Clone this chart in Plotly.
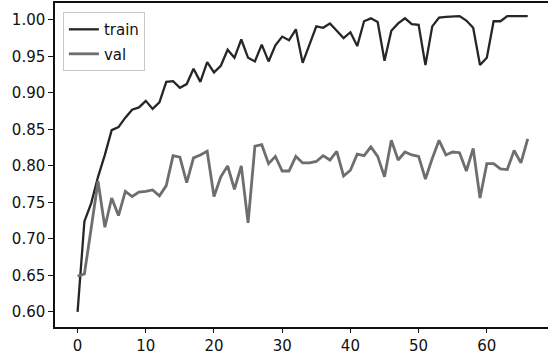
import plotly.graph_objects as go

epochs = list(range(67))

train = [0.600, 0.724, 0.749, 0.785, 0.815, 0.849, 0.853, 0.866, 0.877, 0.880,
         0.889, 0.878, 0.887, 0.915, 0.916, 0.907, 0.912, 0.933, 0.915, 0.942,
         0.928, 0.937, 0.959, 0.948, 0.973, 0.948, 0.943, 0.966, 0.943, 0.965,
         0.977, 0.972, 0.987, 0.941, 0.966, 0.991, 0.989, 0.995, 0.985, 0.975,
         0.983, 0.964, 0.998, 1.002, 0.997, 0.944, 0.985, 0.995, 1.002, 0.994,
         0.993, 0.938, 0.991, 1.003, 1.004, 1.005, 1.005, 0.999, 0.989, 0.938,
         0.948, 0.998, 0.998, 1.005, 1.005, 1.005, 1.005]

val = [0.649, 0.652, 0.715, 0.779, 0.716, 0.756, 0.732, 0.765, 0.758, 0.764,
       0.765, 0.767, 0.759, 0.773, 0.814, 0.812, 0.777, 0.811, 0.815, 0.820,
       0.758, 0.785, 0.800, 0.768, 0.800, 0.722, 0.827, 0.829, 0.803, 0.813,
       0.793, 0.793, 0.813, 0.804, 0.804, 0.806, 0.814, 0.808, 0.820, 0.786,
       0.794, 0.816, 0.814, 0.826, 0.813, 0.785, 0.835, 0.808, 0.819, 0.815,
       0.813, 0.782, 0.810, 0.835, 0.815, 0.819, 0.818, 0.793, 0.824, 0.756,
       0.803, 0.803, 0.796, 0.795, 0.821, 0.804, 0.837]

x_ticks = [0, 10, 20, 30, 40, 50, 60]
y_ticks = [0.60, 0.65, 0.70, 0.75, 0.80, 0.85, 0.90, 0.95, 1.00]

FONT = "DejaVu Sans"

fig = go.Figure()
fig.add_trace(go.Scatter(x=epochs, y=train, mode="lines", name="train",
                         line=dict(color="#262626", width=2.3),
                         legendgroup="a"))
fig.add_trace(go.Scatter(x=epochs, y=val, mode="lines", name="val",
                         line=dict(color="#6e6e6e", width=2.8),
                         legendgroup="b"))

fig.update_layout(
    width=548, height=354,
    margin=dict(l=55, r=0, t=3, b=27),
    paper_bgcolor="white", plot_bgcolor="white",
    font=dict(family=FONT, size=14, color="#111111"),
    showlegend=True,
    legend=dict(x=0.016, y=0.972, xanchor="left", yanchor="top",
                bgcolor="rgba(255,255,255,0.8)", bordercolor="#c8c8c8",
                borderwidth=1, font=dict(family=FONT, size=15, color="#111111"),
                traceorder="grouped", tracegroupgap=2),
    xaxis=dict(range=[-3.31, 68.97], tickmode="array", tickvals=x_ticks,
               ticktext=[str(t) for t in x_ticks], automargin=False,
               showgrid=False, zeroline=False, showline=True, mirror=True,
               linecolor="#111111", linewidth=1.5,
               ticks="outside", ticklen=4, tickwidth=1.2, tickcolor="#111111",
               tickfont=dict(family=FONT, size=15, color="#111111")),
    yaxis=dict(range=[0.5794, 1.023], tickmode="array", tickvals=y_ticks,
               ticktext=[f"{t:.2f}" for t in y_ticks], automargin=False,
               showgrid=False, zeroline=False, showline=True,
               linecolor="#111111", linewidth=1.5,
               ticks="outside", ticklen=5, tickwidth=1.2, tickcolor="#111111",
               tickfont=dict(family=FONT, size=15, color="#111111")),
)

fig.write_html("out.html", config={"displayModeBar": False},
               post_script="document.body.style.margin='0';document.body.style.overflow='hidden';")
